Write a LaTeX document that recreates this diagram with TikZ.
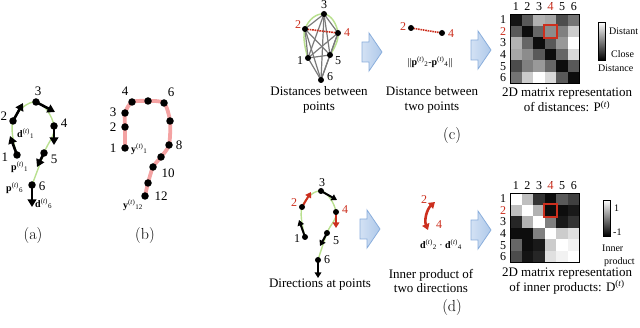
\documentclass[tikz,border=0pt]{standalone}
\usepackage{fontspec}
\newfontfamily\tnr{Liberation Serif}
\usetikzlibrary{arrows.meta, calc}

\definecolor{curveGreen}{HTML}{B9E08F}
\definecolor{pathPink}{HTML}{F4A3A3}
\definecolor{markRed}{HTML}{CC2F1E}
\definecolor{edgeGray}{HTML}{7A7A7A}
\definecolor{arrowFill}{HTML}{AFC9EA}
\definecolor{arrowDraw}{HTML}{8AAEDC}

\newcommand\tvec[2]{\textbf{#1}\textsuperscript{(\textit{t})}\textsubscript{#2}}

\tikzset{
  dot/.style={circle, fill=black, inner sep=0pt, minimum size=7.5pt},
  smalldot/.style={dot, minimum size=6pt},
  lbl/.style={font=\tnr\fontsize{13}{14}\selectfont, inner sep=0pt},
  smalllbl/.style={font=\tnr\fontsize{12}{13}\selectfont, inner sep=0pt},
  formula/.style={font=\tnr\fontsize{10}{11}\selectfont, inner sep=0pt},
  barlbl/.style={font=\tnr\fontsize{10}{11}\selectfont, inner sep=0pt},
  caption/.style={font=\tnr\fontsize{13}{14.5}\selectfont, align=center, inner sep=0pt},
  panel/.style={font=\fontsize{16}{18}\selectfont, inner sep=0pt},
  dirarrow/.style={line width=2.6pt, -{Triangle[length=7.5pt,width=8.5pt]}},
  smallarrow/.style={line width=2pt, -{Triangle[length=5.5pt,width=6.5pt]}},
  edge/.style={edgeGray, line width=1.2pt},
  pairline/.style={markRed, line width=1.6pt, dash pattern=on 1.6pt off 0.8pt},
  blockarrow/.pic={
    \draw[arrowDraw, line width=0.8pt, left color=arrowFill!55, right color=arrowFill]
      (-10,-10) -- (-3,-10) -- (-3,-19) -- (10,0) -- (-3,19) -- (-3,10) -- (-10,10) -- cycle;
  }
}

\begin{document}
\begin{tikzpicture}[x=1pt, y=-1pt]
    \useasboundingbox (0,0) rectangle (640,328);

    % ---------- (a) directions along the stroke ----------
    \coordinate (a1) at (17,155);
    \coordinate (a2) at (13,121);
    \coordinate (a3) at (36,102);
    \coordinate (a4) at (54,126);
    \coordinate (a5) at (44,153);
    \coordinate (a6) at (32,185);
    \coordinate (ta1) at (10,136);
    \coordinate (ta2) at (23,103);
    \coordinate (ta3) at (55,112);
    \coordinate (ta4) at (54,145);
    \coordinate (ta5) at (37,167);
    \coordinate (ta6) at (32,207);

    \draw[curveGreen, line width=1.4pt] plot[smooth, tension=0.7]
        coordinates {(a1) (a2) (a3) (a4) (a5) (a6)};
    \foreach \k in {1,...,6} {
        \draw[dirarrow] (a\k) -- (ta\k);
        \node[dot] (da\k) at (a\k) {};
    }

    \node[lbl] (la1) at (5,157) {1};
    \node[lbl] (la2) at (4,116) {2};
    \node[lbl] (la3) at (38,91) {3};
    \node[lbl] (la4) at (64,123) {4};
    \node[lbl] (la5) at (54,159) {5};
    \node[lbl] (la6) at (42,186) {6};
    \node[formula, anchor=west] (ld1) at (17,134) {\tvec{d}{1}};
    \node[formula, anchor=west] (lp1) at (11,167) {\tvec{p}{1}};
    \node[formula, anchor=west] (lp6) at (6,188) {\tvec{p}{6}};
    \node[formula, anchor=west] (ld6) at (35,204) {\tvec{d}{6}};
    \node[panel] (capA) at (33,236) {(a)};

    % ---------- (b) sampled stroke ----------
    \coordinate (b1) at (125,148);
    \coordinate (b2) at (125,127);
    \coordinate (b3) at (125,113);
    \coordinate (b4) at (132,102);
    \coordinate (b5) at (148,101);
    \coordinate (b6) at (164,103);
    \coordinate (b7) at (170,121);
    \coordinate (b8) at (169,145);
    \coordinate (b9) at (161,157);
    \coordinate (b10) at (153,167);
    \coordinate (b11) at (148,183);
    \coordinate (b12) at (145,196);

    \draw[pathPink, line width=3.8pt, line join=round] plot[smooth, tension=0.45]
        coordinates {(b1) (b2) (b3) (b4) (b5) (b6) (b7) (b8) (b9) (b10) (b11) (b12)};
    \foreach \k in {1,...,12}
        \node[dot] (db\k) at (b\k) {};

    \node[lbl] (lb1) at (113,148) {1};
    \node[lbl] (lb2) at (113,127) {2};
    \node[lbl] (lb3) at (113,112) {3};
    \node[lbl] (lb4) at (125,91) {4};
    \node[lbl] (lb6) at (171,92) {6};
    \node[lbl] (lb8) at (179,145) {8};
    \node[lbl] (lb10) at (168,173) {10};
    \node[lbl] (lb12) at (161,196) {12};
    \node[formula, anchor=west] (ly1) at (131,149) {\textbf{y}\textsuperscript{(\textit{t})}\textsubscript{1}};
    \node[formula] (ly12) at (133,205) {\textbf{y}\textsuperscript{(\textit{t})}\textsubscript{12}};
    \node[panel] (capB) at (145,236) {(b)};

    % ---------- (c) distances ----------
    \coordinate (c1) at (308,58);
    \coordinate (c2) at (305,29);
    \coordinate (c3) at (324,14);
    \coordinate (c4) at (338,33);
    \coordinate (c5) at (330,55);
    \coordinate (c6) at (321,80);

    \draw[curveGreen, line width=1.5pt] plot[smooth, tension=0.8]
        coordinates {(c1) (c2) (c3) (c4) (c5)};
    \foreach \u/\v in {1/2,1/3,1/4,1/5,1/6,2/3,2/5,2/6,3/4,3/5,3/6,4/5,4/6,5/6}
        \draw[edge] (c\u) -- (c\v);
    \draw[pairline] (c2) -- (c4);
    \foreach \k in {1,...,6}
        \node[smalldot] (dc\k) at (c\k) {};

    \node[smalllbl] (lc1) at (300,61) {1};
    \node[smalllbl, markRed] (lc2) at (298,25) {2};
    \node[smalllbl] (lc3) at (324,5) {3};
    \node[smalllbl, markRed] (lc4) at (347,33) {4};
    \node[smalllbl] (lc5) at (338,61) {5};
    \node[smalllbl] (lc6) at (330,77) {6};
    \node[caption] (capC1) at (319,100) {Distances between\\points};

    \pic at (372,52) {blockarrow};

    \coordinate (s2) at (411,28);
    \coordinate (s4) at (442,33);
    \draw[pairline] (s2) -- (s4);
    \node[smalldot] (ds2) at (s2) {};
    \node[smalldot] (ds4) at (s4) {};
    \node[smalllbl, markRed] (ls2) at (403,27) {2};
    \node[smalllbl, markRed] (ls4) at (451,34) {4};
    \node[formula] (fc) at (430,62) {||\tvec{p}{2}-\tvec{p}{4}||};
    \node[caption] (capC2) at (432,100) {Distance between\\two points};

    \pic at (481,50) {blockarrow};

    % distance matrix
    \def\mx{510}
    \def\my{14}
    \def\cw{11.6}
    \foreach \row [count=\i] in {{8,35,70,65,30,45},{35,5,40,55,50,80},{70,40,5,35,60,100},
                                 {65,55,35,5,40,85},{30,50,60,40,5,35},{45,80,100,85,35,5}} {
        \foreach \v [count=\j] in \row
            \fill[white!\v!black] (\mx+\j*\cw-\cw,\my+\i*\cw-\cw) rectangle +(\cw,\cw);
    }
    \draw[line width=0.5pt] (\mx,\my) rectangle +(6*\cw,6*\cw);
    \draw[markRed, line width=2.2pt] (\mx+3*\cw-0.5,\my+\cw-0.5) rectangle +(\cw+1,\cw+1);
    \foreach \k in {1,...,6} {
        \node[smalllbl] (rc\k) at (\mx-7,\my+\k*\cw-0.5*\cw) {\k};
        \node[smalllbl] (kc\k) at (\mx+\k*\cw-0.5*\cw,\my-7) {\k};
    }
    \node[smalllbl, markRed, fill=white] at (rc2) {2};
    \node[smalllbl, markRed, fill=white] at (kc4) {4};

    \shade[top color=white, bottom color=black] (598,22) rectangle (605,60);
    \draw[line width=0.4pt] (598,22) rectangle (605,60);
    \node[barlbl, anchor=west] (lDistant) at (609,31) {Distant};
    \node[barlbl, anchor=west] (lClose) at (611,54) {Close};
    \node[barlbl, anchor=west] (lDist) at (598,68) {Distance};

    \node[caption] (capC3) at (567,100) {2D matrix representation\\of distances: P\textsuperscript{(\textit{t})}};
    \node[panel] (capC) at (452,136) {(c)};

    % ---------- (d) inner products ----------
    \coordinate (d1) at (305,237);
    \coordinate (d2) at (302,207);
    \coordinate (d3) at (321,191);
    \coordinate (d4) at (336,212);
    \coordinate (d5) at (327,233);
    \coordinate (d6) at (318,260);
    \coordinate (td1) at (299,220);
    \coordinate (td2) at (311,192);
    \coordinate (td3) at (337,200);
    \coordinate (td4) at (336,228);
    \coordinate (td5) at (320,246);
    \coordinate (td6) at (318,278);

    \draw[curveGreen, line width=1.4pt] plot[smooth, tension=0.7]
        coordinates {(d1) (d2) (d3) (d4) (d5) (d6)};
    \foreach \k/\c in {1/black,2/markRed,3/black,4/markRed,5/black,6/black} {
        \draw[smallarrow, \c] (d\k) -- (td\k);
        \node[smalldot] (dd\k) at (d\k) {};
    }
    \node[smalllbl] (ld1x) at (297,239) {1};
    \node[smalllbl, markRed] (ld2x) at (294,203) {2};
    \node[smalllbl] (ld3x) at (322,183) {3};
    \node[smalllbl, markRed] (ld4x) at (345,210) {4};
    \node[smalllbl] (ld5x) at (336,241) {5};
    \node[smalllbl] (ld6x) at (327,260) {6};
    \node[caption] (capD1) at (320,285) {Directions at points};

    \pic at (370,229) {blockarrow};

    \coordinate (pr4) at (428,230);
    \coordinate (pr2) at (435,202);
    \draw[markRed, line width=2.6pt, {Triangle[length=6pt,width=7.5pt]}-{Triangle[length=6pt,width=7.5pt]}]
        (pr4) .. controls (424,220) and (427,209) .. (pr2);
    \node[smalllbl, markRed] (lpr2) at (424,200) {2};
    \node[smalllbl, markRed] (lpr4) at (439,225) {4};
    \node[formula] (fd) at (441,245) {\tvec{d}{2} · \tvec{d}{4}};
    \node[caption] (capD2) at (431,281) {Inner product of\\two directions};

    \pic at (481,230) {blockarrow};

    % inner product matrix
    \def\my{193}
    \foreach \row [count=\i] in {{100,75,20,5,35,25},{75,100,70,5,5,10},{15,70,100,50,10,20},
                                 {5,5,50,100,80,88},{40,5,10,80,100,95},{30,8,15,88,95,100}} {
        \foreach \v [count=\j] in \row
            \fill[white!\v!black] (\mx+\j*\cw-\cw,\my+\i*\cw-\cw) rectangle +(\cw,\cw);
    }
    \draw[line width=0.5pt] (\mx,\my) rectangle +(6*\cw,6*\cw);
    \draw[markRed, line width=2.2pt] (\mx+3*\cw-0.5,\my+\cw-0.5) rectangle +(\cw+1,\cw+1);
    \foreach \k in {1,...,6} {
        \node[smalllbl] (rd\k) at (\mx-7,\my+\k*\cw-0.5*\cw) {\k};
        \node[smalllbl] (kd\k) at (\mx+\k*\cw-0.5*\cw,\my-7) {\k};
    }
    \node[smalllbl, markRed, fill=white] at (rd2) {2};
    \node[smalllbl, markRed, fill=white] at (kd4) {4};

    \shade[top color=white, bottom color=black] (603,200) rectangle (610,236);
    \draw[line width=0.4pt] (603,200) rectangle (610,236);
    \node[barlbl, anchor=west] (lOne) at (614,208) {1};
    \node[barlbl, anchor=west] (lMinus) at (613,232) {-1};
    \node[barlbl, anchor=west] (lInner) at (602,248) {Inner};
    \node[barlbl, anchor=west] (lProd) at (604,262) {product};

    \node[caption] (capD3) at (567,281) {2D matrix representation\\of inner products: D\textsuperscript{(\textit{t})}};
    \node[panel] (capD) at (452,308) {(d)};
\end{tikzpicture}
\end{document}
